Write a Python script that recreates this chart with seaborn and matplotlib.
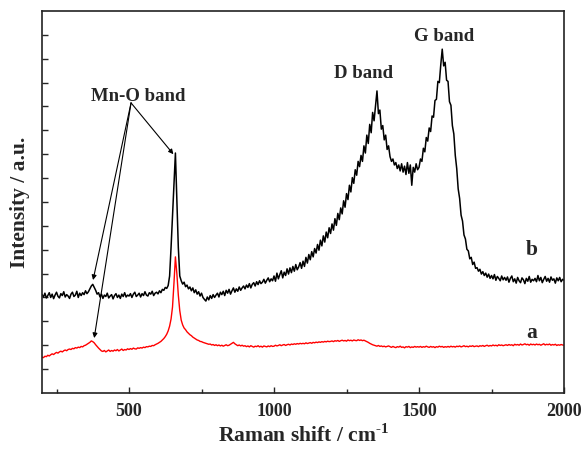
import numpy as np
import pandas as pd
import seaborn as sns
import matplotlib.pyplot as plt

# Raman shift grid (cm-1), one point every 5 cm-1
shift = np.arange(200, 2001, 5)

# curve b (black), arbitrary intensity units
b_vals = [
    4.12, 4.02, 4.18, 3.98, 4.08, 4.20, 4.00, 4.14, 3.95, 4.10, 4.22, 4.05, 3.98, 4.16, 4.08, 4.24, 4.02, 4.12, 4.06, 3.96,
    4.14, 4.22, 4.04, 4.10, 4.26, 4.00, 4.18, 4.08, 4.20, 4.12, 4.28, 4.16, 4.24, 4.36, 4.48, 4.55, 4.42, 4.30, 4.14, 4.20,
    4.02, 4.14, 3.96, 4.10, 4.04, 4.18, 3.98, 4.06, 4.12, 3.94, 4.08, 4.16, 4.00, 4.10, 3.96, 4.14, 4.04, 4.20, 4.02, 4.10,
    4.06, 4.16, 4.00, 4.14, 4.22, 4.04, 4.10, 4.18, 4.02, 4.16, 4.08, 4.24, 4.10, 4.06, 4.20, 4.14, 4.26, 4.08, 4.18, 4.22,
    4.15, 4.28, 4.20, 4.34, 4.30, 4.42, 4.38, 4.50, 4.90, 6.10, 7.40, 8.70, 10.05, 8.00, 6.10, 4.90, 4.70, 4.56, 4.64, 4.45,
    4.52, 4.36, 4.44, 4.28, 4.40, 4.20, 4.32, 4.14, 4.24, 4.06, 4.18, 4.00, 3.92, 3.85, 4.02, 3.90, 4.08, 3.96, 4.12, 4.00,
    4.10, 4.18, 4.02, 4.22, 4.12, 4.26, 4.08, 4.30, 4.18, 4.34, 4.14, 4.28, 4.40, 4.22, 4.36, 4.26, 4.44, 4.30, 4.40, 4.48,
    4.36, 4.52, 4.42, 4.58, 4.40, 4.55, 4.62, 4.48, 4.66, 4.54, 4.70, 4.58, 4.64, 4.76, 4.60, 4.72, 4.82, 4.66, 4.78, 4.70,
    4.90, 4.68, 5.02, 4.78, 4.96, 5.12, 4.82, 5.06, 4.92, 5.20, 4.98, 5.24, 5.04, 5.30, 5.10, 5.38, 5.16, 5.28, 5.46, 5.22,
    5.52, 5.30, 5.68, 5.44, 5.80, 5.58, 5.92, 5.70, 6.05, 5.86, 6.22, 5.98, 6.40, 6.16, 6.58, 6.32, 6.74, 6.50, 6.92, 6.68,
    7.08, 6.82, 7.30, 7.02, 7.52, 7.26, 7.75, 7.50, 8.05, 7.78, 8.35, 8.10, 8.70, 8.42, 9.02, 8.78, 9.35, 9.12, 9.70, 9.48,
    9.95, 9.70, 10.35, 10.05, 10.80, 10.45, 11.25, 10.90, 11.75, 11.40, 12.05, 12.65, 11.70, 11.85, 11.05, 11.20, 10.60, 10.80, 10.20, 10.35,
    9.90, 9.70, 9.80, 9.55, 9.65, 9.40, 9.55, 9.30, 9.60, 9.25, 9.50, 9.15, 9.65, 9.20, 9.55, 8.70, 9.45, 9.25, 9.60, 9.35,
    9.45, 9.80, 9.70, 10.25, 10.10, 10.70, 10.55, 11.10, 10.95, 11.60, 11.55, 12.25, 12.30, 13.05, 13.00, 13.75, 14.40, 13.70, 13.85, 13.10,
    13.05, 12.20, 12.05, 11.20, 10.85, 9.95, 9.40, 8.55, 8.15, 7.45, 7.20, 6.62, 6.45, 6.02, 5.95, 5.62, 5.68, 5.38, 5.48, 5.22,
    5.25, 5.10, 5.18, 4.98, 5.08, 4.92, 5.02, 4.85, 4.98, 4.80, 4.92, 4.78, 4.96, 4.72, 4.88, 4.80, 4.70, 4.90, 4.74, 4.84,
    4.72, 4.86, 4.64, 4.80, 4.90, 4.66, 4.78, 4.60, 4.84, 4.70, 4.62, 4.82, 4.74, 4.58, 4.80, 4.68, 4.88, 4.64, 4.76, 4.70,
    4.80, 4.66, 4.92, 4.70, 4.84, 4.62, 4.76, 4.88, 4.68, 4.80, 4.64, 4.86, 4.72, 4.78, 4.60, 4.82, 4.70, 4.84, 4.66, 4.76,
    4.72,
]

# curve a (red)
a_vals = [
    1.50, 1.48, 1.54, 1.52, 1.58, 1.55, 1.60, 1.64, 1.61, 1.66, 1.70, 1.67, 1.72, 1.75, 1.72, 1.77, 1.80, 1.77, 1.82, 1.84,
    1.82, 1.87, 1.85, 1.90, 1.88, 1.92, 1.90, 1.95, 1.93, 1.98, 2.00, 2.04, 2.08, 2.12, 2.18, 2.15, 2.10, 2.02, 1.95, 1.88,
    1.82, 1.76, 1.74, 1.78, 1.72, 1.76, 1.80, 1.74, 1.78, 1.75, 1.80, 1.77, 1.82, 1.76, 1.80, 1.84, 1.78, 1.82, 1.80, 1.85,
    1.82, 1.86, 1.83, 1.88, 1.85, 1.84, 1.89, 1.87, 1.90, 1.88, 1.92, 1.90, 1.94, 1.93, 1.96, 1.95, 1.99, 1.98, 2.02, 2.05,
    2.08, 2.12, 2.16, 2.22, 2.28, 2.36, 2.46, 2.60, 2.80, 3.10, 3.60, 4.60, 5.70, 5.00, 4.10, 3.45, 3.05, 2.85, 2.72, 2.65,
    2.56, 2.50, 2.44, 2.40, 2.34, 2.30, 2.26, 2.22, 2.20, 2.16, 2.15, 2.12, 2.10, 2.08, 2.06, 2.04, 2.05, 2.01, 2.03, 1.99,
    2.02, 1.98, 2.01, 1.97, 2.00, 1.96, 1.99, 2.02, 1.98, 2.00, 2.04, 2.08, 2.12, 2.06, 2.02, 1.98, 2.01, 1.97, 2.00, 1.96,
    1.98, 1.94, 1.97, 1.93, 1.98, 1.95, 1.92, 1.96, 1.94, 1.98, 1.93, 1.96, 1.92, 1.97, 1.95, 1.93, 1.97, 1.94, 1.98, 1.95,
    1.96, 2.00, 1.97, 1.99, 2.02, 1.98, 2.01, 2.03, 1.99, 2.02, 2.04, 2.01, 2.05, 2.03, 2.06, 2.04, 2.07, 2.05, 2.08, 2.06,
    2.08, 2.06, 2.10, 2.07, 2.09, 2.11, 2.08, 2.12, 2.10, 2.13, 2.11, 2.14, 2.12, 2.15, 2.13, 2.16, 2.14, 2.17, 2.15, 2.16,
    2.18, 2.15, 2.19, 2.17, 2.20, 2.16, 2.19, 2.21, 2.18, 2.20, 2.17, 2.22, 2.19, 2.21, 2.18, 2.22, 2.20, 2.19, 2.23, 2.20,
    2.22, 2.19, 2.21, 2.18, 2.15, 2.12, 2.08, 2.05, 2.02, 2.00, 1.98, 1.96, 1.99, 1.95, 1.97, 1.94, 1.96, 1.93, 1.95, 1.97,
    1.94, 1.91, 1.95, 1.92, 1.90, 1.94, 1.92, 1.96, 1.91, 1.93, 1.89, 1.94, 1.92, 1.95, 1.90, 1.93, 1.91, 1.95, 1.92, 1.94,
    1.92, 1.95, 1.91, 1.94, 1.92, 1.96, 1.93, 1.91, 1.95, 1.92, 1.94, 1.90, 1.94, 1.92, 1.96, 1.93, 1.95, 1.91, 1.94, 1.92,
    1.95, 1.92, 1.96, 1.93, 1.95, 1.92, 1.96, 1.94, 1.97, 1.93, 1.95, 1.98, 1.94, 1.96, 1.93, 1.97, 1.95, 1.98, 1.94, 1.96,
    1.97, 1.94, 1.98, 1.96, 1.99, 1.95, 1.98, 2.00, 1.96, 1.99, 1.97, 2.01, 1.98, 2.00, 1.97, 2.02, 1.99, 2.01, 1.98, 2.00,
    2.02, 1.99, 2.03, 2.00, 2.02, 1.98, 2.04, 2.01, 2.03, 2.00, 2.05, 2.01, 2.03, 2.06, 2.02, 2.04, 2.00, 2.05, 2.02, 2.04,
    2.01, 2.05, 2.02, 2.04, 2.00, 2.03, 2.06, 2.01, 2.04, 2.02, 2.05, 2.00, 2.03, 2.01, 2.04, 1.99, 2.02, 2.00, 2.03, 2.01,
    2.00,
]

band_labels = ["Mn-O band", "D band", "G band"]
mno_targets = [(376, 4.73), (380, 2.3), (653, 10.0)]

df = pd.DataFrame({"shift": shift, "a": a_vals, "b": b_vals})

sns.set_style("ticks")
plt.rcParams["font.family"] = ["Liberation Serif", "DejaVu Serif"]
plt.rcParams["font.weight"] = "bold"
plt.rcParams["mathtext.fontset"] = "custom"
plt.rcParams["mathtext.rm"] = "Liberation Serif:bold"
plt.rcParams["mathtext.bf"] = "Liberation Serif:bold"

fig = plt.figure(figsize=(5.81, 4.53), dpi=100)
ax = fig.add_axes([0.0723, 0.1325, 0.8985, 0.8433])

sns.lineplot(data=df, x="shift", y="b", color="black", lw=1.1, ax=ax)
sns.lineplot(data=df, x="shift", y="a", color="#ff0000", lw=1.0, ax=ax)

ax.set_xlim(200, 2000)
ax.set_ylim(0, 16)
ax.set_xticks([500, 1000, 1500, 2000])
ax.set_xticks([250, 750, 1250, 1750], minor=True)
ax.set_yticks(range(1, 16))
ax.set_yticklabels([])
ax.tick_params(axis="x", which="major", direction="in", length=4, width=1,
               labelsize=13, pad=7)
ax.tick_params(axis="x", which="minor", direction="in", length=3, width=1)
ax.tick_params(axis="y", direction="in", length=4, width=1)
for lab in ax.get_xticklabels():
    lab.set_fontweight("bold")
for sp in ax.spines.values():
    sp.set_linewidth(1.2)
    sp.set_color("#222222")

ax.set_xlabel(r"Raman shift / cm$^{\text{-1}}$", fontsize=15.5,
              fontweight="bold", labelpad=3)
ax.set_ylabel("Intensity / a.u.", fontsize=15.5, fontweight="bold", labelpad=5)

# annotations
ax.text(531, 12.4, band_labels[0], ha="center", va="center", fontsize=13.5,
        fontweight="bold")
for tx, ty in mno_targets:
    ax.annotate("", xy=(tx, ty), xytext=(507, 12.15),
                arrowprops=dict(arrowstyle="-|>", color="black", lw=0.8,
                                mutation_scale=7, shrinkA=0, shrinkB=0))
ax.text(1310, 13.4, band_labels[1], ha="center", va="center", fontsize=13.5,
        fontweight="bold")
ax.text(1588, 14.95, band_labels[2], ha="center", va="center", fontsize=13.5,
        fontweight="bold")
ax.text(1890, 6.0, "b", ha="center", va="center", fontsize=15.5, fontweight="bold")
ax.text(1888, 2.5, "a", ha="center", va="center", fontsize=15.5, fontweight="bold")

fig.savefig("out.png", dpi=100)
